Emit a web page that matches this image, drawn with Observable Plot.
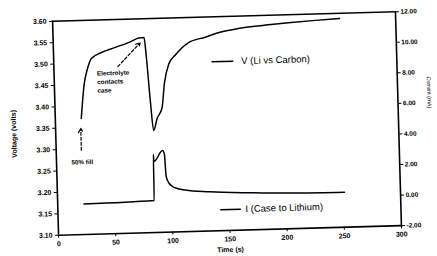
<!DOCTYPE html>
<html>
<head>
<meta charset="utf-8">
<script src="https://cdn.jsdelivr.net/npm/d3@7"></script>
<script src="https://cdn.jsdelivr.net/npm/@observablehq/plot@0.6"></script>
<style>
  html, body { margin: 0; padding: 0; background: #fff; }
  #chart { width: 437px; height: 256px; overflow: hidden; }
</style>
</head>
<body>
<div id="chart"></div>
<script>
// Voltage, V (Li vs Carbon), left axis (volts)
const vTime = [22.7, 26.2, 28.9, 33.2, 42, 54.2, 67.4, 76.1, 79.6, 81, 83.5, 85.7, 89, 93.6, 96.2, 100.6, 106.7, 118, 133, 147, 162, 191, 206, 230, 251];
const vVolt = [3.371, 3.453, 3.483, 3.511, 3.524, 3.535, 3.547, 3.556, 3.556, 3.514, 3.408, 3.338, 3.366, 3.391, 3.447, 3.493, 3.514, 3.541, 3.553, 3.564, 3.571, 3.578, 3.581, 3.585, 3.588];

// Current, I (Case to Lithium), right axis (mA)
const iTime = [23, 84.5, 84.8, 85.2, 93, 94.5, 95.5, 98, 102.5, 112, 133, 171, 210, 251];
const iCurr = [0.0, 0.1, 3.1, 2.65, 3.35, 3.1, 1.65, 1.18, 0.91, 0.72, 0.56, 0.42, 0.32, 0.28];

// Axis ticks
const xTicks = [0, 50, 100, 150, 200, 250, 300];
const vTicks = [3.10, 3.15, 3.20, 3.25, 3.30, 3.35, 3.40, 3.45, 3.50, 3.55, 3.60];
const iTicks = [-2, 0, 2, 4, 6, 8, 10, 12];

// Legend entries (line segment from/to in data units, label)
const legendNames = ["V (Li vs Carbon)", "I (Case to Lithium)"];
const legendX1 = [138, 142];
const legendX2 = [157, 160];
const legendTextX = [164, 164];
const legendV = [3.495, 3.149];

// Annotations
const noteLines = ["Electrolyte", "contacts", "case"];
const noteX = [37.6, 37.6, 37.6];
const noteV = [3.475, 3.455, 3.435];
const fillLabel = ["50% fill"];
const fillX = [13];
const fillV = [3.269];
const arrowX1 = [56, 22];
const arrowV1 = [3.490, 3.297];
const arrowX2 = [76, 22];
const arrowV2 = [3.544, 3.348];

// map current (right axis) onto voltage scale
const iMin = -2, iMax = 12, vMin = 3.10, vMax = 3.60;
const toV = i => vMin + (i - iMin) * (vMax - vMin) / (iMax - iMin);
const fromV = v => iMin + (v - vMin) * (iMax - iMin) / (vMax - vMin);

const vData = vTime.map((t, k) => ({t, v: vVolt[k]}));
const iData = iTime.map((t, k) => ({t, v: toV(iCurr[k])}));
const legData = legendNames.map((n, k) => ({n, x1: legendX1[k], x2: legendX2[k], tx: legendTextX[k], v: legendV[k]}));
const noteData = noteLines.map((n, k) => ({n, x: noteX[k], v: noteV[k]}));
const fillData = fillLabel.map((n, k) => ({n, x: fillX[k], v: fillV[k]}));
const arrowData = arrowX1.map((x1, k) => ({x1, y1: arrowV1[k], x2: arrowX2[k], y2: arrowV2[k]}));

const font = "'Liberation Sans', Arial, sans-serif";

const svg = Plot.plot({
  width: 437,
  height: 256,
  marginLeft: 55,
  marginRight: 39,
  marginTop: 16,
  marginBottom: 26,
  style: {fontFamily: font, background: "#fff", color: "#000"},
  x: {domain: [0, 300]},
  y: {domain: [vMin, vMax]},
  marks: [
    Plot.axisX(xTicks, {tickSize: 3, tickPadding: 3, fontSize: 7, fontWeight: "bold", label: null, tickFormat: d => String(d)}),
    Plot.axisY(vTicks, {anchor: "left", tickSize: 3, tickPadding: 3, fontSize: 7, fontWeight: "bold", label: null, tickFormat: d => d.toFixed(2)}),
    Plot.axisY(iTicks.map(toV), {anchor: "right", tickSize: 3, tickPadding: 2, fontSize: 6.5, fontWeight: "bold", label: null, tickFormat: d => fromV(d).toFixed(2)}),
    Plot.frame({stroke: "#000", strokeWidth: 1.6}),
    Plot.line(vData, {x: "t", y: "v", stroke: "#000", strokeWidth: 1.5, curve: "monotone-x"}),
    Plot.line(iData, {x: "t", y: "v", stroke: "#000", strokeWidth: 1.5, curve: "monotone-x"}),
    Plot.link(legData, {x1: "x1", x2: "x2", y1: "v", y2: "v", stroke: "#000", strokeWidth: 1.5}),
    Plot.text(legData, {x: "tx", y: "v", text: "n", textAnchor: "start", fontSize: 9.5, fill: "#000"}),
    Plot.text(noteData, {x: "x", y: "v", text: "n", textAnchor: "start", fontSize: 6.3, fontWeight: "bold", fill: "#000"}),
    Plot.text(fillData, {x: "x", y: "v", text: "n", textAnchor: "start", fontSize: 6.3, fontWeight: "bold", fill: "#000"}),
    Plot.arrow(arrowData, {x1: "x1", y1: "y1", x2: "x2", y2: "y2", stroke: "#000", strokeWidth: 1.2, strokeDasharray: "3,2", headLength: 6})
  ]
});

// axis titles
const ns = "http://www.w3.org/2000/svg";
function addText(str, x, y, size, rot, weight) {
  const t = document.createElementNS(ns, "text");
  t.setAttribute("x", x);
  t.setAttribute("y", y);
  t.setAttribute("text-anchor", "middle");
  t.setAttribute("font-size", size);
  t.setAttribute("font-weight", weight);
  t.setAttribute("font-family", font);
  t.setAttribute("fill", "#000");
  if (rot) t.setAttribute("transform", `rotate(${rot} ${x} ${y})`);
  t.textContent = str;
  svg.appendChild(t);
}
addText("Voltage (volts)", 16, 128, 7, -90, "bold");
addText("Time (s)", 227, 252, 7, 0, "bold");
addText("Current (mA)", 428, 98, 5.5, 90, "normal");

svg.style.transformOrigin = "226px 123px";
svg.style.transform = "rotate(-1.6deg)";
document.getElementById("chart").appendChild(svg);
</script>
</body>
</html>
